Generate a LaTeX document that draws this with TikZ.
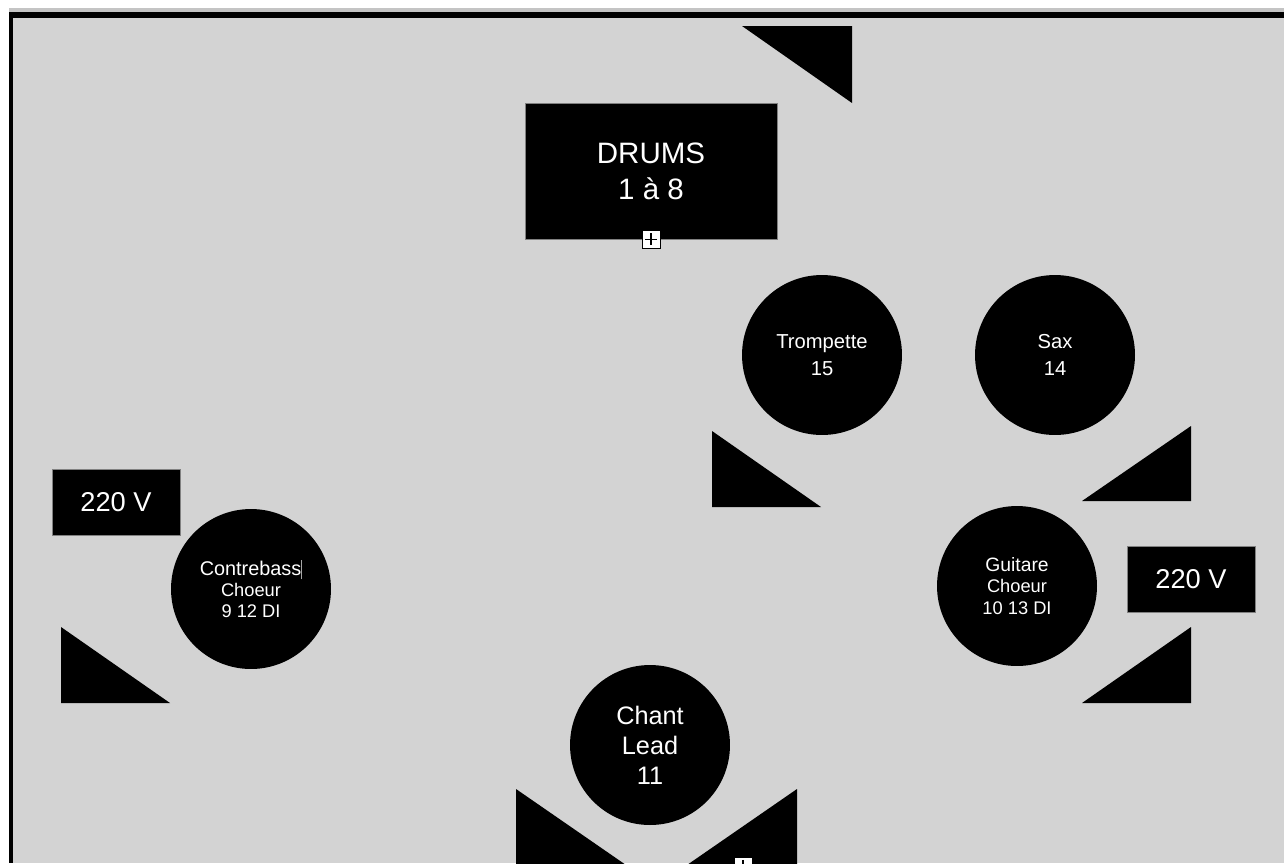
\documentclass[tikz,border=0pt]{standalone}
\usepackage{fontspec}
\setmainfont{Liberation Sans}
\usetikzlibrary{positioning}
\definecolor{stagegray}{RGB}{211,211,211}
\definecolor{rimgray}{RGB}{196,196,196}
\tikzset{
  stagebox/.style={rectangle, fill=black, draw=gray, line width=0.3pt, text=white, inner sep=0pt, align=center},
  player/.style={circle, fill=black, text=white, inner sep=0pt, minimum size=3.2cm, align=center},
  wedge/.style={fill=black},
  plusbox/.style={rectangle, draw=black, fill=white, line width=0.5pt, minimum size=0.36cm, inner sep=0pt,
    path picture={\draw[line width=0.7pt] ([yshift=-1.6pt]path picture bounding box.north) -- ([yshift=1.6pt]path picture bounding box.south)
      ([xshift=1.6pt]path picture bounding box.west) -- ([xshift=-1.6pt]path picture bounding box.east);}},
}
\newcommand{\smalltxt}{\fontsize{10.4}{12}\selectfont}
\begin{document}
\begin{tikzpicture}[x=0.02cm,y=-0.02cm]
\useasboundingbox (0,0) rectangle (1284,863);
\clip (0,0) rectangle (1284,863);
\fill[white] (0,0) rectangle (1284,863);
\fill[rimgray] (9,8) rectangle (1284,12);
\fill[stagegray] (9,12) rectangle (1284,863);
\fill[black] (9,12) rectangle (1284,18);
\fill[black] (9,12) rectangle (13,863);
\fill[wedge] (742,26) -- (852,26) -- (852,103) -- cycle;
\fill[wedge] (712,431) -- (712,507) -- (821,507) -- cycle;
\fill[wedge] (1082,501) -- (1191,501) -- (1191,426) -- cycle;
\fill[wedge] (1082,703) -- (1191,703) -- (1191,627) -- cycle;
\fill[wedge] (61,627) -- (61,703) -- (170,703) -- cycle;
\fill[wedge] (516,789) -- (516,865) -- (626,865) -- cycle;
\fill[wedge] (797,789) -- (797,865) -- (687,865) -- cycle;
\node[stagebox, minimum width=5.04cm, minimum height=2.72cm, font=\fontsize{16.8}{20.4}\selectfont] (drums) at (651,171) {DRUMS\\1 à 8};
\node[plusbox] (drumsplus) at (drums.south) {};
\node[player, font=\fontsize{11.5}{15}\selectfont] (trompette) at (822,355) {Trompette\\15};
\node[player, font=\fontsize{11.5}{15}\selectfont] (sax) at (1055,355) {Sax\\14};
\node[stagebox, minimum width=2.56cm, minimum height=1.32cm, font=\fontsize{15.5}{18}\selectfont] (voltleft) at (116,502) {220 V};
\node[stagebox, minimum width=2.56cm, minimum height=1.32cm, font=\fontsize{15.5}{18}\selectfont] (voltright) at (1191,579) {220 V};
\node[player, font=\fontsize{11.3}{12}\selectfont] (contrebass) at (251,589) {Contrebass\textcolor{gray!70}{\rule[-2pt]{0.5pt}{11pt}}\\{\smalltxt Choeur}\\{\smalltxt 9 12 DI}};
\node[player, font=\fontsize{11}{12}\selectfont] (guitare) at (1017,586) {Guitare\\{\smalltxt Choeur}\\{\smalltxt 10 13 DI}};
\node[player, font=\fontsize{14.4}{17}\selectfont] (chant) at (650,745) {Chant\\Lead\\11};
\node[plusbox] (chantplus) at (743,866) {};
\end{tikzpicture}
\end{document}
